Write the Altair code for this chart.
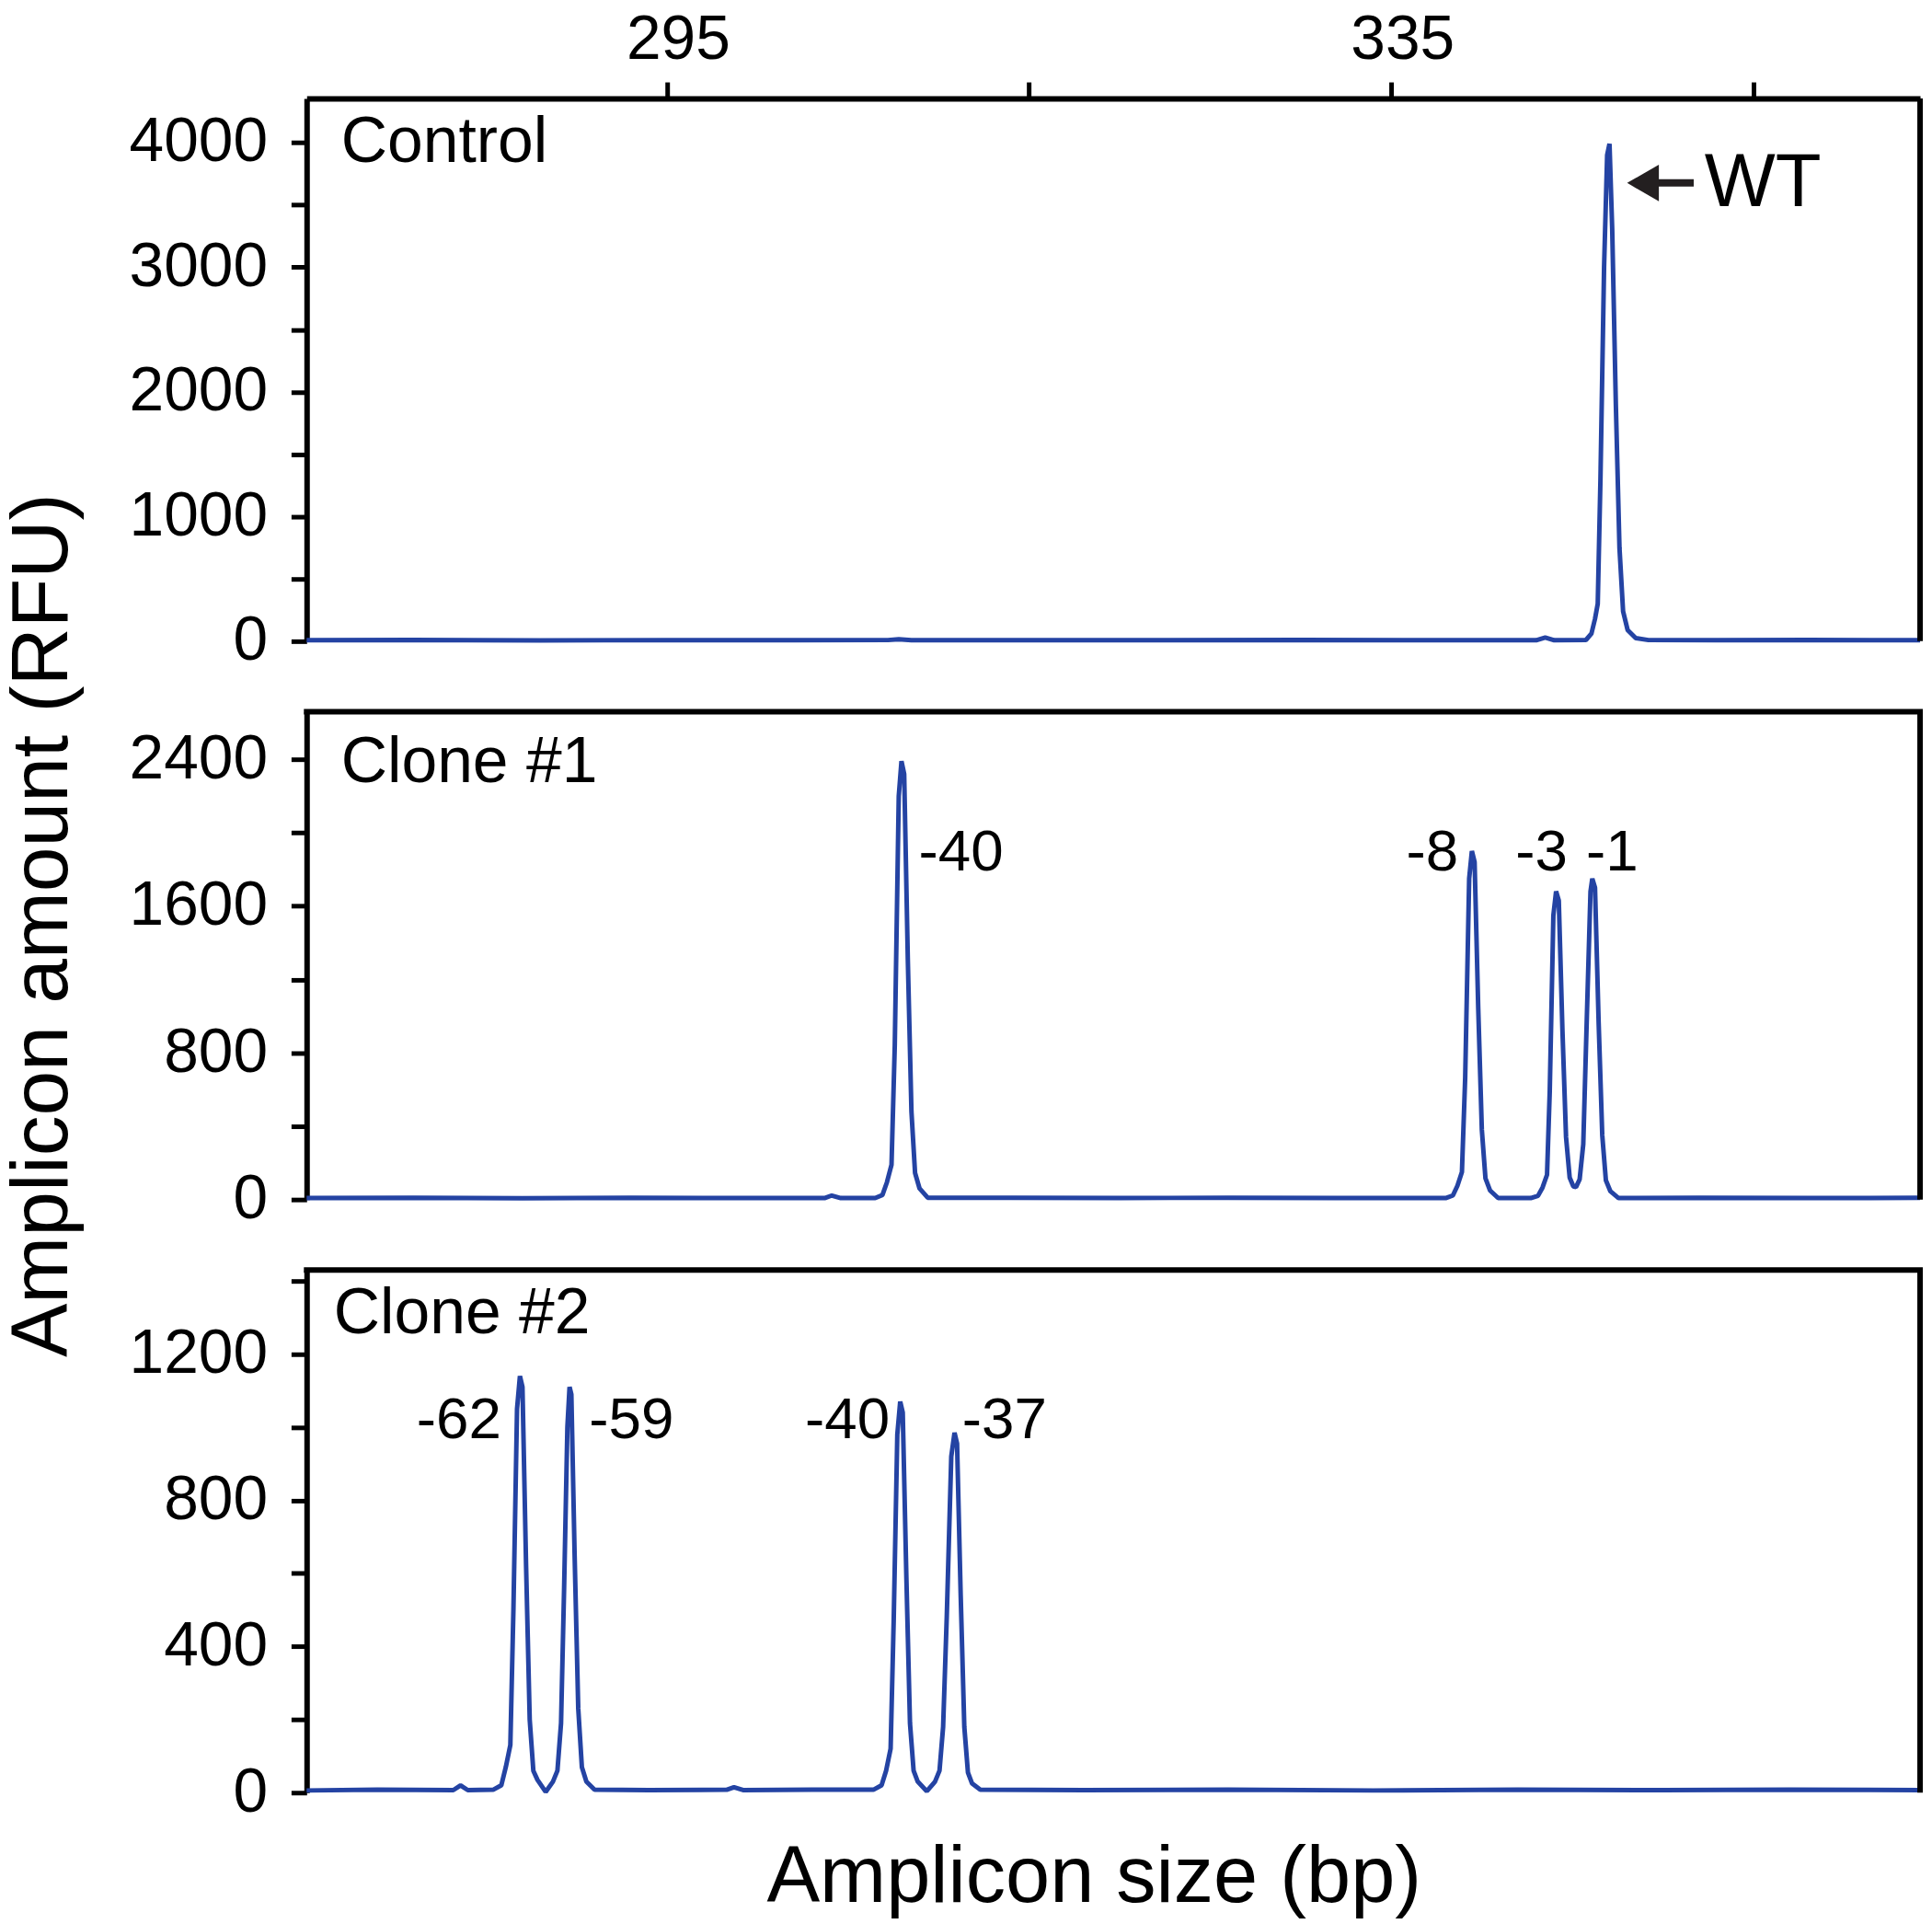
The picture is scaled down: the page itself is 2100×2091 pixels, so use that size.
import altair as alt
import pandas as pd

FONT = "Liberation Sans"
BLUE = "#2443a3"
X_MIN, X_MAX = 275.1, 364.2

# ---------------- data ----------------
ctrl_bp = [275.1, 281, 288, 295, 302, 307.2, 307.8, 308.5, 315, 322, 330, 337, 343.0, 343.5, 344.0,
           345.75, 346.05, 346.25, 346.4, 346.55, 346.75, 346.92, 347.05, 347.2, 347.4, 347.6, 347.8,
           348.05, 348.5, 349.2, 353, 358, 364.2]
ctrl_rfu = [8, 10, 7, 9, 8, 9, 16, 8, 9, 8, 10, 8, 8, 30, 8,
            10, 60, 180, 300, 1300, 3000, 3900, 3990, 3300, 1900, 750, 240,
            90, 25, 9, 8, 10, 8]

c1_bp = [275.1, 281, 287, 293, 299, 303.7, 304.1, 304.6, 306.5, 306.9, 307.15, 307.4, 307.58, 307.8,
         307.95, 308.1, 308.3, 308.5, 308.7, 308.95, 309.4, 314, 320, 326, 332, 338.0, 338.4, 338.65,
         338.9, 339.08, 339.3, 339.45, 339.6, 339.8, 340.0, 340.2, 340.45, 340.9, 342.7, 343.1, 343.35,
         343.6, 343.75, 343.95, 344.1, 344.25, 344.45, 344.65, 344.85, 345.05, 345.2, 345.4, 345.6,
         345.8, 346.0, 346.1, 346.25, 346.45, 346.65, 346.85, 347.1, 347.55, 352, 358, 364.2]
c1_rfu = [8, 10, 7, 9, 8, 8, 22, 8, 8, 25, 95, 190, 840, 2200,
          2390, 2320, 1310, 480, 145, 60, 10, 9, 8, 10, 8, 8, 22, 75,
          150, 665, 1750, 1900, 1840, 1045, 380, 115, 50, 8, 8, 20, 65,
          135, 590, 1550, 1680, 1630, 925, 340, 120, 72, 68, 110, 300,
          1000, 1680, 1750, 1700, 965, 350, 105, 45, 8, 9, 8, 9]

c2_bp = [275.1, 279, 283.2, 283.6, 284.0, 285.4, 285.85, 286.1, 286.35, 286.52, 286.72, 286.88, 287.02,
         287.22, 287.42, 287.62, 287.85, 288.3, 288.7, 288.95, 289.15, 289.32, 289.5, 289.62, 289.72,
         289.9, 290.1, 290.3, 290.55, 291.0, 294, 298.3, 298.7, 299.2, 303, 306.4, 306.85, 307.1,
         307.35, 307.52, 307.72, 307.88, 308.02, 308.22, 308.42, 308.62, 308.85, 309.35, 309.8, 310.05,
         310.25, 310.45, 310.7, 310.88, 311.02, 311.22, 311.42, 311.62, 311.85, 312.3, 318, 326, 334,
         342, 350, 357, 364.2]
c2_rfu = [6, 8, 7, 20, 7, 8, 20, 70, 130, 500, 1050, 1140, 1110,
          620, 200, 60, 35, 2, 30, 60, 190, 560, 1000, 1110, 1090,
          650, 230, 70, 30, 8, 7, 8, 15, 7, 8, 8, 20, 60,
          120, 470, 980, 1070, 1040, 590, 190, 60, 30, 4, 30, 60,
          180, 480, 920, 985, 955, 540, 180, 55, 25, 8, 7, 8, 6,
          8, 7, 8, 7]

# panel names and peak labels
panel_names = ["Control", "Clone #1", "Clone #2"]
panel_name_bp = [277.0, 277.0, 276.6]
panel_name_rfu = [4000, 2380, 1309]

c1_lab_text = ["-40", "-8", "-3", "-1"]
c1_lab_bp = [308.9, 338.7, 343.3, 347.2]
c1_lab_rfu = [1890, 1890, 1890, 1890]
c1_lab_align = ["left", "right", "center", "center"]

c2_lab_text = ["-62", "-59", "-40", "-37"]
c2_lab_bp = [285.85, 290.7, 307.3, 311.3]
c2_lab_rfu = [1017, 1017, 1017, 1017]
c2_lab_align = ["right", "left", "right", "left"]

wt_text = "WT"
wt_bp, wt_rfu = 352.3, 3676
arrow_head_bp, arrow_tail_bp = 348.9, 351.7

y_tops = [4354, 2660, 1430]
y_ticks = [list(range(0, 4001, 500)), list(range(0, 2401, 400)), list(range(0, 1401, 200))]
y_label_steps = [1000, 800, 400]
top_ticks = [295, 315, 335, 355]

WIDTH = 1763
HEIGHTS = [593, 533, 571]
LINE_W = 6


def xscale():
    return alt.Scale(domain=[X_MIN, X_MAX], nice=False, zero=False)


def yscale(i):
    return alt.Scale(domain=[0, y_tops[i]], nice=False, zero=False)


def yaxis(i, title=None, **extra):
    return alt.Axis(values=y_ticks[i], format="d",
                    labelExpr=f"datum.value % {y_label_steps[i]} == 0 ? datum.label : ''",
                    tickSize=17, tickWidth=5, domainWidth=LINE_W, tickColor="black",
                    domainColor="black", labelPadding=26, labelFontSize=68, labelFont=FONT,
                    labelColor="black", grid=False, title=title, **extra)


top_axis = alt.Axis(orient="top", values=top_ticks,
                    labelExpr="datum.value == 295 || datum.value == 335 ? datum.label : ''",
                    tickSize=18, tickWidth=5, domainWidth=LINE_W, tickColor="black",
                    domainColor="black", labelPadding=26, labelFontSize=68, labelFont=FONT,
                    labelColor="black", labelBaseline="alphabetic", labelOffset=12, grid=False,
                    title=None)

bottom_axis = alt.Axis(orient="bottom", domain=False, ticks=False, labels=False, grid=False,
                       title="Amplicon size (bp)", titleFontSize=87, titleFont=FONT,
                       titleFontWeight="normal", titleColor="black", titleAlign="center",
                       titleBaseline="alphabetic", titleX=860, titleY=119)

XAXES = [top_axis, None, bottom_axis]
YAXES = [
    yaxis(0),
    yaxis(1, title="Amplicon amount (RFU)", titleFontSize=88, titleFont=FONT,
          titleFontWeight="normal", titleColor="black", titleAngle=270,
          titleBaseline="alphabetic", titleAlign="center", titleX=-262, titleY=233),
    yaxis(2),
]


def X(i, field=None, **kw):
    if field is None:
        return alt.X(scale=xscale(), axis=XAXES[i], **kw)
    return alt.X(field, type="quantitative", scale=xscale(), axis=XAXES[i], **kw)


def Y(i, field=None, **kw):
    if field is None:
        return alt.Y(scale=yscale(i), axis=YAXES[i], **kw)
    return alt.Y(field, type="quantitative", scale=yscale(i), axis=YAXES[i], **kw)


def trace_layer(bp, rfu, i):
    df = pd.DataFrame({"bp": bp, "rfu": rfu})
    return alt.Chart(df).mark_line(color=BLUE, strokeWidth=5, strokeJoin="bevel").encode(
        x=X(i, "bp"), y=Y(i, "rfu"))


def frame_layers(i, top_rule):
    one = pd.DataFrame({"k": [0]})
    layers = [alt.Chart(one).mark_rule(color="black", strokeWidth=LINE_W).encode(
        x=X(i, datum=X_MAX), y=Y(i, datum=0), y2=alt.Y2(datum=y_tops[i]))]
    if top_rule:
        layers.append(alt.Chart(one).mark_rule(color="black", strokeWidth=LINE_W,
                                               strokeCap="square").encode(
            x=X(i, datum=X_MIN), x2=alt.X2(datum=X_MAX), y=Y(i, datum=y_tops[i])))
    return layers


def name_layer(i):
    df = pd.DataFrame({"bp": [panel_name_bp[i]], "rfu": [panel_name_rfu[i]], "t": [panel_names[i]]})
    return alt.Chart(df).mark_text(align="left", baseline="middle", fontSize=70, font=FONT,
                                   color="black").encode(
        x=X(i, "bp"), y=Y(i, "rfu"), text="t:N")


def label_layers(i, texts, bps, rfus, aligns):
    df = pd.DataFrame({"bp": bps, "rfu": rfus, "t": texts, "a": aligns})
    out = []
    for a in ["left", "center", "right"]:
        sub = df[df["a"] == a]
        if len(sub) == 0:
            continue
        out.append(alt.Chart(sub).mark_text(align=a, baseline="middle", fontSize=64, font=FONT,
                                            color="black").encode(
            x=X(i, "bp"), y=Y(i, "rfu"), text="t:N"))
    return out


# ---------------- panel 1 : Control ----------------
arrow_df = pd.DataFrame({"b0": [arrow_head_bp], "b1": [arrow_tail_bp], "rfu": [wt_rfu],
                         "wx": [wt_bp], "t": [wt_text]})
arrow_shaft = alt.Chart(arrow_df).mark_rule(color="#231f20", strokeWidth=8).encode(
    x=X(0, "b0"), x2="b1:Q", y=Y(0, "rfu"))
arrow_head = alt.Chart(arrow_df).mark_point(shape="triangle-left", size=1600, filled=True,
                                            color="#231f20", opacity=1).encode(
    x=X(0, "b0"), y=Y(0, "rfu"))
wt_label = alt.Chart(arrow_df).mark_text(align="left", baseline="middle", fontSize=82, font=FONT,
                                         color="black").encode(
    x=X(0, "wx"), y=Y(0, "rfu"), text="t:N")

p1 = alt.layer(
    trace_layer(ctrl_bp, ctrl_rfu, 0),
    *frame_layers(0, False),
    name_layer(0), arrow_shaft, arrow_head, wt_label,
).properties(width=WIDTH, height=HEIGHTS[0])

# ---------------- panel 2 : Clone #1 ----------------
p2 = alt.layer(
    trace_layer(c1_bp, c1_rfu, 1),
    *frame_layers(1, True),
    name_layer(1),
    *label_layers(1, c1_lab_text, c1_lab_bp, c1_lab_rfu, c1_lab_align),
).properties(width=WIDTH, height=HEIGHTS[1])

# ---------------- panel 3 : Clone #2 ----------------
p3 = alt.layer(
    trace_layer(c2_bp, c2_rfu, 2),
    *frame_layers(2, True),
    name_layer(2),
    *label_layers(2, c2_lab_text, c2_lab_bp, c2_lab_rfu, c2_lab_align),
).properties(width=WIDTH, height=HEIGHTS[2])

chart = alt.vconcat(p1, p2, p3, spacing=77, bounds="flush").properties(
    padding={"left": -6, "top": -4, "right": 0, "bottom": 0}, background="white"
).configure_view(stroke=None)

chart.save("out.html", embed_options={"renderer": "svg", "actions": False})
